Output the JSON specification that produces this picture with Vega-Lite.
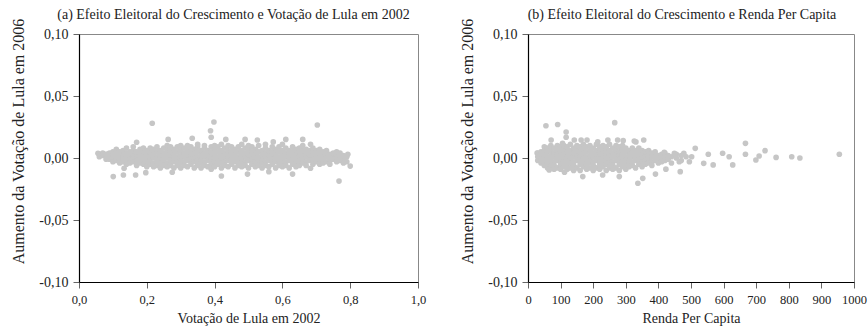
{
"$schema": "https://vega.github.io/schema/vega-lite/v6.json",
"padding": {"left": 10, "top": 7, "right": 1, "bottom": 0},
"background": "white",
"spacing": 32,
"config": {
 "font": "Liberation Serif",
 "view": {"stroke": "#888", "strokeWidth": 1},
 "axis": {"labelFont": "Liberation Serif", "titleFont": "Liberation Serif", "labelFontSize": 14, "titleFontSize": 14, "labelColor": "#222", "titleColor": "#222", "titleFontWeight": "normal", "domainColor": "#000", "domainWidth": 1.2, "tickColor": "#666", "tickSize": 6, "labelPadding": 5, "grid": false, "labelOverlap": false, "labelFlush": false},
 "axisX": {"labelFontSize": 12.5},
 "title": {"font": "Liberation Serif", "fontSize": 14, "fontWeight": "normal", "color": "#222", "anchor": "middle", "offset": -4}
},
"datasets": {
"a": [
{"votacao":0.06,"aumento":0.003},{"votacao":0.06,"aumento":0.001},
{"votacao":0.07,"aumento":0.002},{"votacao":0.07,"aumento":0.004},
{"votacao":0.08,"aumento":0.001},{"votacao":0.08,"aumento":0.003},{"votacao":0.08,"aumento":-0.001},
{"votacao":0.09,"aumento":0.002},{"votacao":0.09,"aumento":-0.001},{"votacao":0.09,"aumento":0.004},
{"votacao":0.10,"aumento":0.000},{"votacao":0.10,"aumento":0.003},{"votacao":0.10,"aumento":-0.003},{"votacao":0.10,"aumento":0.005},
{"votacao":0.11,"aumento":0.001},{"votacao":0.11,"aumento":-0.002},{"votacao":0.11,"aumento":0.004},{"votacao":0.11,"aumento":0.007},
{"votacao":0.12,"aumento":-0.001},{"votacao":0.12,"aumento":0.002},{"votacao":0.12,"aumento":0.005},{"votacao":0.12,"aumento":-0.004},
{"votacao":0.13,"aumento":0.003},{"votacao":0.13,"aumento":0.000},{"votacao":0.13,"aumento":-0.003},{"votacao":0.13,"aumento":0.006},
{"votacao":0.14,"aumento":0.001},{"votacao":0.14,"aumento":-0.002},{"votacao":0.14,"aumento":0.004},{"votacao":0.14,"aumento":0.008},{"votacao":0.14,"aumento":-0.005},
{"votacao":0.15,"aumento":0.002},{"votacao":0.15,"aumento":-0.001},{"votacao":0.15,"aumento":0.005},{"votacao":0.15,"aumento":-0.004},
{"votacao":0.16,"aumento":0.000},{"votacao":0.16,"aumento":0.003},{"votacao":0.16,"aumento":-0.003},{"votacao":0.16,"aumento":0.006},{"votacao":0.16,"aumento":0.009},
{"votacao":0.17,"aumento":0.002},{"votacao":0.17,"aumento":-0.002},{"votacao":0.17,"aumento":0.005},{"votacao":0.17,"aumento":-0.006},
{"votacao":0.18,"aumento":-0.001},{"votacao":0.18,"aumento":0.001},{"votacao":0.18,"aumento":0.004},{"votacao":0.18,"aumento":0.007},{"votacao":0.18,"aumento":-0.004},
{"votacao":0.19,"aumento":0.002},{"votacao":0.19,"aumento":-0.002},{"votacao":0.19,"aumento":0.005},{"votacao":0.19,"aumento":-0.005},{"votacao":0.19,"aumento":0.008},
{"votacao":0.20,"aumento":0.000},{"votacao":0.20,"aumento":0.003},{"votacao":0.20,"aumento":-0.003},{"votacao":0.20,"aumento":0.006},{"votacao":0.20,"aumento":-0.007},
{"votacao":0.21,"aumento":0.002},{"votacao":0.21,"aumento":-0.001},{"votacao":0.21,"aumento":0.005},{"votacao":0.21,"aumento":0.008},{"votacao":0.21,"aumento":-0.005},
{"votacao":0.22,"aumento":0.000},{"votacao":0.22,"aumento":0.003},{"votacao":0.22,"aumento":-0.004},{"votacao":0.22,"aumento":0.007},{"votacao":0.22,"aumento":-0.007},
{"votacao":0.23,"aumento":0.001},{"votacao":0.23,"aumento":-0.002},{"votacao":0.23,"aumento":0.005},{"votacao":0.23,"aumento":0.009},{"votacao":0.23,"aumento":-0.006},
{"votacao":0.24,"aumento":-0.001},{"votacao":0.24,"aumento":0.002},{"votacao":0.24,"aumento":0.006},{"votacao":0.24,"aumento":-0.004},{"votacao":0.24,"aumento":-0.008},
{"votacao":0.25,"aumento":0.001},{"votacao":0.25,"aumento":0.004},{"votacao":0.25,"aumento":-0.002},{"votacao":0.25,"aumento":0.008},{"votacao":0.25,"aumento":-0.006},
{"votacao":0.26,"aumento":0.000},{"votacao":0.26,"aumento":0.003},{"votacao":0.26,"aumento":-0.004},{"votacao":0.26,"aumento":0.007},{"votacao":0.26,"aumento":0.010},{"votacao":0.26,"aumento":-0.007},
{"votacao":0.27,"aumento":0.002},{"votacao":0.27,"aumento":-0.002},{"votacao":0.27,"aumento":0.005},{"votacao":0.27,"aumento":-0.006},{"votacao":0.27,"aumento":0.009},
{"votacao":0.28,"aumento":0.000},{"votacao":0.28,"aumento":0.003},{"votacao":0.28,"aumento":-0.003},{"votacao":0.28,"aumento":0.007},{"votacao":0.28,"aumento":-0.008},
{"votacao":0.29,"aumento":0.001},{"votacao":0.29,"aumento":-0.002},{"votacao":0.29,"aumento":0.005},{"votacao":0.29,"aumento":0.009},{"votacao":0.29,"aumento":-0.006},
{"votacao":0.30,"aumento":-0.001},{"votacao":0.30,"aumento":0.002},{"votacao":0.30,"aumento":0.006},{"votacao":0.30,"aumento":-0.004},{"votacao":0.30,"aumento":-0.008},{"votacao":0.30,"aumento":0.010},
{"votacao":0.31,"aumento":0.001},{"votacao":0.31,"aumento":0.004},{"votacao":0.31,"aumento":-0.003},{"votacao":0.31,"aumento":0.008},{"votacao":0.31,"aumento":-0.006},
{"votacao":0.32,"aumento":0.000},{"votacao":0.32,"aumento":0.003},{"votacao":0.32,"aumento":-0.002},{"votacao":0.32,"aumento":0.006},{"votacao":0.32,"aumento":-0.007},{"votacao":0.32,"aumento":0.010},
{"votacao":0.33,"aumento":0.002},{"votacao":0.33,"aumento":-0.001},{"votacao":0.33,"aumento":0.005},{"votacao":0.33,"aumento":-0.005},{"votacao":0.33,"aumento":0.009},
{"votacao":0.34,"aumento":0.000},{"votacao":0.34,"aumento":0.003},{"votacao":0.34,"aumento":-0.003},{"votacao":0.34,"aumento":0.007},{"votacao":0.34,"aumento":-0.008},
{"votacao":0.35,"aumento":0.001},{"votacao":0.35,"aumento":-0.002},{"votacao":0.35,"aumento":0.005},{"votacao":0.35,"aumento":0.009},{"votacao":0.35,"aumento":-0.006},{"votacao":0.35,"aumento":0.011},
{"votacao":0.36,"aumento":-0.001},{"votacao":0.36,"aumento":0.002},{"votacao":0.36,"aumento":0.006},{"votacao":0.36,"aumento":-0.004},{"votacao":0.36,"aumento":-0.008},
{"votacao":0.37,"aumento":0.001},{"votacao":0.37,"aumento":0.004},{"votacao":0.37,"aumento":-0.003},{"votacao":0.37,"aumento":0.008},{"votacao":0.37,"aumento":-0.006},{"votacao":0.37,"aumento":0.010},
{"votacao":0.38,"aumento":0.000},{"votacao":0.38,"aumento":0.003},{"votacao":0.38,"aumento":-0.002},{"votacao":0.38,"aumento":0.006},{"votacao":0.38,"aumento":-0.007},
{"votacao":0.39,"aumento":0.002},{"votacao":0.39,"aumento":-0.001},{"votacao":0.39,"aumento":0.005},{"votacao":0.39,"aumento":-0.005},{"votacao":0.39,"aumento":0.009},{"votacao":0.39,"aumento":-0.009},
{"votacao":0.40,"aumento":0.000},{"votacao":0.40,"aumento":0.003},{"votacao":0.40,"aumento":-0.003},{"votacao":0.40,"aumento":0.007},{"votacao":0.40,"aumento":-0.007},{"votacao":0.40,"aumento":0.010},
{"votacao":0.41,"aumento":0.001},{"votacao":0.41,"aumento":-0.002},{"votacao":0.41,"aumento":0.005},{"votacao":0.41,"aumento":0.009},{"votacao":0.41,"aumento":-0.005},
{"votacao":0.42,"aumento":-0.001},{"votacao":0.42,"aumento":0.002},{"votacao":0.42,"aumento":0.006},{"votacao":0.42,"aumento":-0.004},{"votacao":0.42,"aumento":-0.008},{"votacao":0.42,"aumento":0.011},
{"votacao":0.43,"aumento":0.001},{"votacao":0.43,"aumento":0.004},{"votacao":0.43,"aumento":-0.003},{"votacao":0.43,"aumento":0.008},{"votacao":0.43,"aumento":-0.006},
{"votacao":0.44,"aumento":0.000},{"votacao":0.44,"aumento":0.003},{"votacao":0.44,"aumento":-0.002},{"votacao":0.44,"aumento":0.006},{"votacao":0.44,"aumento":-0.007},{"votacao":0.44,"aumento":0.010},
{"votacao":0.45,"aumento":0.002},{"votacao":0.45,"aumento":-0.001},{"votacao":0.45,"aumento":0.005},{"votacao":0.45,"aumento":-0.005},{"votacao":0.45,"aumento":0.009},
{"votacao":0.46,"aumento":0.000},{"votacao":0.46,"aumento":0.003},{"votacao":0.46,"aumento":-0.003},{"votacao":0.46,"aumento":0.007},{"votacao":0.46,"aumento":-0.008},
{"votacao":0.47,"aumento":0.001},{"votacao":0.47,"aumento":-0.002},{"votacao":0.47,"aumento":0.005},{"votacao":0.47,"aumento":0.009},{"votacao":0.47,"aumento":-0.006},
{"votacao":0.48,"aumento":-0.001},{"votacao":0.48,"aumento":0.002},{"votacao":0.48,"aumento":0.006},{"votacao":0.48,"aumento":-0.004},{"votacao":0.48,"aumento":-0.007},{"votacao":0.48,"aumento":0.011},
{"votacao":0.49,"aumento":0.001},{"votacao":0.49,"aumento":0.004},{"votacao":0.49,"aumento":-0.003},{"votacao":0.49,"aumento":0.008},{"votacao":0.49,"aumento":-0.006},
{"votacao":0.50,"aumento":0.000},{"votacao":0.50,"aumento":0.003},{"votacao":0.50,"aumento":-0.002},{"votacao":0.50,"aumento":0.006},{"votacao":0.50,"aumento":-0.008},{"votacao":0.50,"aumento":0.010},
{"votacao":0.51,"aumento":0.002},{"votacao":0.51,"aumento":-0.001},{"votacao":0.51,"aumento":0.005},{"votacao":0.51,"aumento":-0.005},{"votacao":0.51,"aumento":0.009},
{"votacao":0.52,"aumento":0.000},{"votacao":0.52,"aumento":0.003},{"votacao":0.52,"aumento":-0.003},{"votacao":0.52,"aumento":0.007},{"votacao":0.52,"aumento":-0.007},
{"votacao":0.53,"aumento":0.001},{"votacao":0.53,"aumento":-0.002},{"votacao":0.53,"aumento":0.005},{"votacao":0.53,"aumento":0.010},{"votacao":0.53,"aumento":-0.006},
{"votacao":0.54,"aumento":-0.001},{"votacao":0.54,"aumento":0.002},{"votacao":0.54,"aumento":0.006},{"votacao":0.54,"aumento":-0.004},{"votacao":0.54,"aumento":-0.008},
{"votacao":0.55,"aumento":0.001},{"votacao":0.55,"aumento":0.004},{"votacao":0.55,"aumento":-0.003},{"votacao":0.55,"aumento":0.008},{"votacao":0.55,"aumento":-0.006},{"votacao":0.55,"aumento":0.011},
{"votacao":0.56,"aumento":0.000},{"votacao":0.56,"aumento":0.003},{"votacao":0.56,"aumento":-0.002},{"votacao":0.56,"aumento":0.006},{"votacao":0.56,"aumento":-0.007},
{"votacao":0.57,"aumento":0.002},{"votacao":0.57,"aumento":-0.001},{"votacao":0.57,"aumento":0.005},{"votacao":0.57,"aumento":-0.005},{"votacao":0.57,"aumento":0.009},
{"votacao":0.58,"aumento":0.000},{"votacao":0.58,"aumento":0.003},{"votacao":0.58,"aumento":-0.003},{"votacao":0.58,"aumento":0.007},{"votacao":0.58,"aumento":-0.008},
{"votacao":0.59,"aumento":0.001},{"votacao":0.59,"aumento":-0.002},{"votacao":0.59,"aumento":0.005},{"votacao":0.59,"aumento":0.009},{"votacao":0.59,"aumento":-0.006},
{"votacao":0.60,"aumento":-0.001},{"votacao":0.60,"aumento":0.002},{"votacao":0.60,"aumento":0.006},{"votacao":0.60,"aumento":-0.004},{"votacao":0.60,"aumento":-0.007},{"votacao":0.60,"aumento":0.011},
{"votacao":0.61,"aumento":0.001},{"votacao":0.61,"aumento":0.004},{"votacao":0.61,"aumento":-0.003},{"votacao":0.61,"aumento":0.008},{"votacao":0.61,"aumento":-0.006},
{"votacao":0.62,"aumento":0.000},{"votacao":0.62,"aumento":0.003},{"votacao":0.62,"aumento":-0.002},{"votacao":0.62,"aumento":0.006},{"votacao":0.62,"aumento":-0.008},
{"votacao":0.63,"aumento":0.002},{"votacao":0.63,"aumento":-0.001},{"votacao":0.63,"aumento":0.005},{"votacao":0.63,"aumento":-0.005},{"votacao":0.63,"aumento":0.009},
{"votacao":0.64,"aumento":0.000},{"votacao":0.64,"aumento":0.003},{"votacao":0.64,"aumento":-0.003},{"votacao":0.64,"aumento":0.007},{"votacao":0.64,"aumento":-0.007},
{"votacao":0.65,"aumento":0.001},{"votacao":0.65,"aumento":-0.002},{"votacao":0.65,"aumento":0.005},{"votacao":0.65,"aumento":0.008},{"votacao":0.65,"aumento":-0.006},
{"votacao":0.66,"aumento":-0.001},{"votacao":0.66,"aumento":0.002},{"votacao":0.66,"aumento":0.006},{"votacao":0.66,"aumento":-0.004},{"votacao":0.66,"aumento":0.010},
{"votacao":0.67,"aumento":0.001},{"votacao":0.67,"aumento":0.004},{"votacao":0.67,"aumento":-0.003},{"votacao":0.67,"aumento":0.007},{"votacao":0.67,"aumento":-0.006},
{"votacao":0.68,"aumento":0.000},{"votacao":0.68,"aumento":0.003},{"votacao":0.68,"aumento":-0.002},{"votacao":0.68,"aumento":0.006},
{"votacao":0.69,"aumento":0.002},{"votacao":0.69,"aumento":-0.001},{"votacao":0.69,"aumento":0.005},{"votacao":0.69,"aumento":-0.005},{"votacao":0.69,"aumento":0.008},
{"votacao":0.70,"aumento":0.000},{"votacao":0.70,"aumento":0.003},{"votacao":0.70,"aumento":-0.003},{"votacao":0.70,"aumento":0.006},
{"votacao":0.71,"aumento":0.001},{"votacao":0.71,"aumento":-0.002},{"votacao":0.71,"aumento":0.004},{"votacao":0.71,"aumento":0.007},{"votacao":0.71,"aumento":-0.005},
{"votacao":0.72,"aumento":-0.001},{"votacao":0.72,"aumento":0.002},{"votacao":0.72,"aumento":0.005},{"votacao":0.72,"aumento":-0.004},
{"votacao":0.73,"aumento":0.001},{"votacao":0.73,"aumento":0.004},{"votacao":0.73,"aumento":-0.003},{"votacao":0.73,"aumento":0.006},
{"votacao":0.74,"aumento":0.000},{"votacao":0.74,"aumento":0.003},{"votacao":0.74,"aumento":-0.002},{"votacao":0.74,"aumento":-0.005},
{"votacao":0.75,"aumento":0.002},{"votacao":0.75,"aumento":-0.001},{"votacao":0.75,"aumento":0.004},
{"votacao":0.76,"aumento":0.000},{"votacao":0.76,"aumento":0.003},{"votacao":0.76,"aumento":-0.003},{"votacao":0.76,"aumento":0.005},
{"votacao":0.77,"aumento":0.001},{"votacao":0.77,"aumento":-0.002},{"votacao":0.77,"aumento":0.004},
{"votacao":0.78,"aumento":-0.001},{"votacao":0.78,"aumento":0.002},{"votacao":0.78,"aumento":-0.004},
{"votacao":0.79,"aumento":0.001},{"votacao":0.79,"aumento":-0.003},
{"votacao":0.216,"aumento":0.028},{"votacao":0.398,"aumento":0.029},{"votacao":0.388,"aumento":0.022},{"votacao":0.39,"aumento":0.0167},
{"votacao":0.703,"aumento":0.0266},{"votacao":0.263,"aumento":0.015},{"votacao":0.17,"aumento":0.0127},{"votacao":0.334,"aumento":0.0159},
{"votacao":0.433,"aumento":0.015},{"votacao":0.49,"aumento":0.015},{"votacao":0.526,"aumento":0.0145},{"votacao":0.573,"aumento":0.013},
{"votacao":0.61,"aumento":0.015},{"votacao":0.66,"aumento":0.015},{"votacao":0.683,"aumento":0.011},{"votacao":0.793,"aumento":0.003},
{"votacao":0.80,"aumento":-0.0065},{"votacao":0.767,"aumento":-0.0186},{"votacao":0.101,"aumento":-0.015},{"votacao":0.131,"aumento":-0.0137},
{"votacao":0.167,"aumento":-0.0137},{"votacao":0.197,"aumento":-0.0118},{"votacao":0.133,"aumento":-0.0083},{"votacao":0.275,"aumento":-0.0115},
{"votacao":0.42,"aumento":-0.0145},{"votacao":0.497,"aumento":-0.013},{"votacao":0.56,"aumento":-0.011},{"votacao":0.63,"aumento":-0.013},
{"votacao":0.683,"aumento":-0.0083},{"votacao":0.056,"aumento":0.0038},{"votacao":0.083,"aumento":0.003}
],
"b": [
{"renda":28,"aumento":0.004},
{"renda":30,"aumento":0.001},{"renda":30,"aumento":0.004},{"renda":30,"aumento":-0.002},
{"renda":40,"aumento":0.002},{"renda":40,"aumento":-0.001},{"renda":40,"aumento":0.005},{"renda":40,"aumento":-0.004},
{"renda":50,"aumento":0.000},{"renda":50,"aumento":0.003},{"renda":50,"aumento":-0.003},{"renda":50,"aumento":0.006},{"renda":50,"aumento":-0.006},{"renda":50,"aumento":0.009},
{"renda":60,"aumento":0.001},{"renda":60,"aumento":-0.002},{"renda":60,"aumento":0.005},{"renda":60,"aumento":0.008},{"renda":60,"aumento":-0.005},{"renda":60,"aumento":-0.008},
{"renda":70,"aumento":-0.001},{"renda":70,"aumento":0.002},{"renda":70,"aumento":0.006},{"renda":70,"aumento":-0.004},{"renda":70,"aumento":-0.007},{"renda":70,"aumento":0.010},
{"renda":80,"aumento":0.001},{"renda":80,"aumento":0.004},{"renda":80,"aumento":-0.003},{"renda":80,"aumento":0.008},{"renda":80,"aumento":-0.006},{"renda":80,"aumento":-0.009},
{"renda":90,"aumento":0.000},{"renda":90,"aumento":0.003},{"renda":90,"aumento":-0.002},{"renda":90,"aumento":0.006},{"renda":90,"aumento":-0.008},{"renda":90,"aumento":0.010},
{"renda":100,"aumento":0.002},{"renda":100,"aumento":-0.001},{"renda":100,"aumento":0.005},{"renda":100,"aumento":-0.005},{"renda":100,"aumento":0.009},{"renda":100,"aumento":-0.009},
{"renda":110,"aumento":0.000},{"renda":110,"aumento":0.003},{"renda":110,"aumento":-0.003},{"renda":110,"aumento":0.007},{"renda":110,"aumento":-0.007},{"renda":110,"aumento":0.010},
{"renda":120,"aumento":0.001},{"renda":120,"aumento":-0.002},{"renda":120,"aumento":0.005},{"renda":120,"aumento":0.009},{"renda":120,"aumento":-0.005},{"renda":120,"aumento":-0.009},
{"renda":130,"aumento":-0.001},{"renda":130,"aumento":0.002},{"renda":130,"aumento":0.006},{"renda":130,"aumento":-0.004},{"renda":130,"aumento":-0.008},{"renda":130,"aumento":0.011},
{"renda":140,"aumento":0.001},{"renda":140,"aumento":0.004},{"renda":140,"aumento":-0.003},{"renda":140,"aumento":0.008},{"renda":140,"aumento":-0.006},{"renda":140,"aumento":-0.010},
{"renda":150,"aumento":0.000},{"renda":150,"aumento":0.003},{"renda":150,"aumento":-0.002},{"renda":150,"aumento":0.006},{"renda":150,"aumento":-0.008},{"renda":150,"aumento":0.010},
{"renda":160,"aumento":0.002},{"renda":160,"aumento":-0.001},{"renda":160,"aumento":0.005},{"renda":160,"aumento":-0.005},{"renda":160,"aumento":0.009},{"renda":160,"aumento":-0.010},
{"renda":170,"aumento":0.000},{"renda":170,"aumento":0.003},{"renda":170,"aumento":-0.003},{"renda":170,"aumento":0.007},{"renda":170,"aumento":-0.007},{"renda":170,"aumento":0.011},
{"renda":180,"aumento":0.001},{"renda":180,"aumento":-0.002},{"renda":180,"aumento":0.005},{"renda":180,"aumento":0.009},{"renda":180,"aumento":-0.005},{"renda":180,"aumento":-0.009},
{"renda":190,"aumento":-0.001},{"renda":190,"aumento":0.002},{"renda":190,"aumento":0.006},{"renda":190,"aumento":-0.004},{"renda":190,"aumento":-0.008},{"renda":190,"aumento":0.010},
{"renda":200,"aumento":0.001},{"renda":200,"aumento":0.004},{"renda":200,"aumento":-0.003},{"renda":200,"aumento":0.008},{"renda":200,"aumento":-0.006},{"renda":200,"aumento":-0.010},
{"renda":210,"aumento":0.000},{"renda":210,"aumento":0.003},{"renda":210,"aumento":-0.002},{"renda":210,"aumento":0.006},{"renda":210,"aumento":-0.008},{"renda":210,"aumento":0.011},
{"renda":220,"aumento":0.002},{"renda":220,"aumento":-0.001},{"renda":220,"aumento":0.005},{"renda":220,"aumento":-0.005},{"renda":220,"aumento":0.009},{"renda":220,"aumento":-0.009},
{"renda":230,"aumento":0.000},{"renda":230,"aumento":0.003},{"renda":230,"aumento":-0.003},{"renda":230,"aumento":0.007},{"renda":230,"aumento":-0.007},{"renda":230,"aumento":0.010},
{"renda":240,"aumento":0.001},{"renda":240,"aumento":-0.002},{"renda":240,"aumento":0.005},{"renda":240,"aumento":0.009},{"renda":240,"aumento":-0.005},{"renda":240,"aumento":-0.010},
{"renda":250,"aumento":-0.001},{"renda":250,"aumento":0.002},{"renda":250,"aumento":0.006},{"renda":250,"aumento":-0.004},{"renda":250,"aumento":-0.008},{"renda":250,"aumento":0.011},
{"renda":260,"aumento":0.001},{"renda":260,"aumento":0.004},{"renda":260,"aumento":-0.003},{"renda":260,"aumento":0.008},{"renda":260,"aumento":-0.006},{"renda":260,"aumento":-0.009},
{"renda":270,"aumento":0.000},{"renda":270,"aumento":0.003},{"renda":270,"aumento":-0.002},{"renda":270,"aumento":0.006},{"renda":270,"aumento":-0.008},{"renda":270,"aumento":0.010},
{"renda":280,"aumento":0.002},{"renda":280,"aumento":-0.001},{"renda":280,"aumento":0.005},{"renda":280,"aumento":-0.005},{"renda":280,"aumento":0.009},{"renda":280,"aumento":-0.010},
{"renda":290,"aumento":0.000},{"renda":290,"aumento":0.003},{"renda":290,"aumento":-0.003},{"renda":290,"aumento":0.007},{"renda":290,"aumento":-0.007},{"renda":290,"aumento":0.010},
{"renda":300,"aumento":0.001},{"renda":300,"aumento":-0.002},{"renda":300,"aumento":0.005},{"renda":300,"aumento":0.008},{"renda":300,"aumento":-0.005},{"renda":300,"aumento":-0.009},
{"renda":310,"aumento":-0.001},{"renda":310,"aumento":0.002},{"renda":310,"aumento":0.006},{"renda":310,"aumento":-0.004},{"renda":310,"aumento":-0.007},
{"renda":320,"aumento":0.001},{"renda":320,"aumento":0.004},{"renda":320,"aumento":-0.003},{"renda":320,"aumento":0.008},{"renda":320,"aumento":-0.006},
{"renda":330,"aumento":0.000},{"renda":330,"aumento":0.003},{"renda":330,"aumento":-0.002},{"renda":330,"aumento":0.006},{"renda":330,"aumento":-0.008},
{"renda":340,"aumento":0.002},{"renda":340,"aumento":-0.001},{"renda":340,"aumento":0.005},{"renda":340,"aumento":-0.005},{"renda":340,"aumento":0.008},
{"renda":350,"aumento":0.000},{"renda":350,"aumento":0.003},{"renda":350,"aumento":-0.003},{"renda":350,"aumento":0.006},{"renda":350,"aumento":-0.007},
{"renda":360,"aumento":0.001},{"renda":360,"aumento":-0.002},{"renda":360,"aumento":0.005},{"renda":360,"aumento":-0.005},
{"renda":370,"aumento":-0.001},{"renda":370,"aumento":0.002},{"renda":370,"aumento":0.006},{"renda":370,"aumento":-0.004},
{"renda":380,"aumento":0.001},{"renda":380,"aumento":0.004},{"renda":380,"aumento":-0.003},{"renda":380,"aumento":-0.006},
{"renda":390,"aumento":0.000},{"renda":390,"aumento":0.003},{"renda":390,"aumento":-0.002},{"renda":390,"aumento":0.005},
{"renda":400,"aumento":0.002},{"renda":400,"aumento":-0.001},{"renda":400,"aumento":-0.004},
{"renda":410,"aumento":0.000},{"renda":410,"aumento":0.003},{"renda":410,"aumento":-0.003},
{"renda":420,"aumento":0.001},{"renda":420,"aumento":-0.002},{"renda":420,"aumento":0.004},
{"renda":430,"aumento":-0.001},{"renda":430,"aumento":0.002},
{"renda":440,"aumento":0.001},{"renda":440,"aumento":-0.004},
{"renda":455,"aumento":0.000},{"renda":455,"aumento":0.003},
{"renda":470,"aumento":-0.002},{"renda":470,"aumento":0.002},
{"renda":485,"aumento":0.001},{"renda":495,"aumento":-0.003},
{"renda":55,"aumento":0.026},{"renda":91,"aumento":0.027},{"renda":117,"aumento":0.021},{"renda":117,"aumento":0.0167},{"renda":266,"aumento":0.0285},
{"renda":71,"aumento":0.0145},{"renda":106,"aumento":0.0118},{"renda":142,"aumento":0.0145},{"renda":163,"aumento":0.0145},{"renda":181,"aumento":0.0145},
{"renda":214,"aumento":0.013},{"renda":245,"aumento":0.0145},{"renda":275,"aumento":0.0145},{"renda":292,"aumento":0.014},{"renda":326,"aumento":0.0137},
{"renda":331,"aumento":0.013},{"renda":355,"aumento":0.0145},
{"renda":65,"aumento":-0.0097},{"renda":112,"aumento":-0.0115},{"renda":168,"aumento":-0.015},{"renda":229,"aumento":-0.0137},{"renda":280,"aumento":-0.015},
{"renda":337,"aumento":-0.0204},{"renda":352,"aumento":-0.0164},{"renda":391,"aumento":-0.013},{"renda":423,"aumento":-0.009},{"renda":467,"aumento":-0.011},
{"renda":464,"aumento":-0.003},{"renda":502,"aumento":0.001},{"renda":478,"aumento":0.0038},{"renda":449,"aumento":0.0038},{"renda":418,"aumento":0.0046},
{"renda":513,"aumento":0.0078},{"renda":539,"aumento":-0.0043},{"renda":553,"aumento":0.003},{"renda":568,"aumento":-0.0056},{"renda":597,"aumento":0.0038},
{"renda":617,"aumento":0.001},{"renda":628,"aumento":-0.0056},{"renda":667,"aumento":0.0118},{"renda":667,"aumento":0.003},{"renda":699,"aumento":-0.0016},
{"renda":709,"aumento":0.0016},{"renda":727,"aumento":0.0059},{"renda":761,"aumento":0.0005},{"renda":809,"aumento":0.001},{"renda":834,"aumento":0.0},
{"renda":955,"aumento":0.003}
]
},
"hconcat": [
 {
  "title": {"text": "(a) Efeito Eleitoral do Crescimento e Votação de Lula em 2002", "dx": -15},
  "width": 339, "height": 248,
  "data": {"name": "a"},
  "mark": {"type": "point", "filled": true, "size": 32, "color": "#c6c6c6", "opacity": 1},
  "encoding": {
   "x": {"field": "votacao", "type": "quantitative", "scale": {"domain": [0, 1], "nice": false, "zero": false},
    "axis": {"title": "Votação de Lula em 2002", "values": [0, 0.2, 0.4, 0.6, 0.8, 1], "labelExpr": "replace(format(datum.value, '.1f'), '.', ',')", "titlePadding": 6}},
   "y": {"field": "aumento", "type": "quantitative", "scale": {"domain": [-0.1, 0.1], "nice": false, "zero": false},
    "axis": {"title": "Aumento da Votação de Lula em 2006", "values": [-0.1, -0.05, 0, 0.05, 0.1], "labelExpr": "(datum.value < 0 ? '-' : '') + replace(format(abs(datum.value), '.2f'), '.', ',')", "titleFontSize": 16, "titlePadding": 12, "titleY": 107}}
  }
 },
 {
  "title": {"text": "(b) Efeito Eleitoral do Crescimento e Renda Per Capita", "dx": -9},
  "width": 326, "height": 248,
  "data": {"name": "b"},
  "mark": {"type": "point", "filled": true, "size": 32, "color": "#c6c6c6", "opacity": 1},
  "encoding": {
   "x": {"field": "renda", "type": "quantitative", "scale": {"domain": [0, 1000], "nice": false, "zero": false},
    "axis": {"title": "Renda Per Capita", "values": [0, 100, 200, 300, 400, 500, 600, 700, 800, 900, 1000], "format": "d", "titlePadding": 6}},
   "y": {"field": "aumento", "type": "quantitative", "scale": {"domain": [-0.1, 0.1], "nice": false, "zero": false},
    "axis": {"title": "Aumento da Votação de Lula em 2006", "values": [-0.1, -0.05, 0, 0.05, 0.1], "labelExpr": "(datum.value < 0 ? '-' : '') + replace(format(abs(datum.value), '.2f'), '.', ',')", "titleFontSize": 16, "titlePadding": 12, "titleY": 107}}
  }
 }
]
}
